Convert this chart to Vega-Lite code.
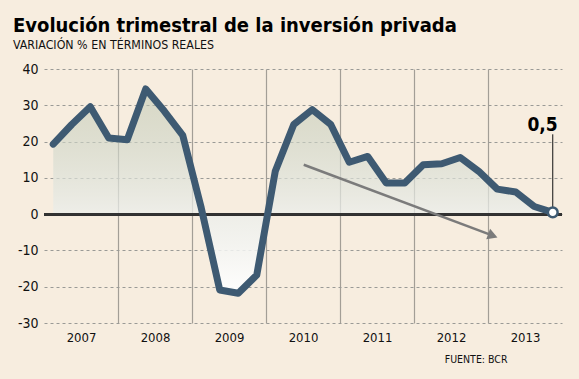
{
  "$schema": "https://vega.github.io/schema/vega-lite/v6.json",
  "autosize": "none",
  "width": 518,
  "height": 254,
  "padding": {"left": 44, "top": 69, "right": 17, "bottom": 56},
  "background": "#f7eddf",
  "title": {
    "text": "Evolución trimestral de la inversión privada",
    "subtitle": "VARIACIÓN % EN TÉRMINOS REALES",
    "anchor": "start",
    "frame": "group",
    "dx": -31,
    "offset": 11,
    "font": "DejaVu Sans Condensed, sans-serif",
    "fontSize": 20,
    "fontWeight": "bold",
    "color": "#000000",
    "subtitleFont": "DejaVu Sans Condensed, sans-serif",
    "subtitleFontSize": 12.3,
    "subtitleColor": "#111111",
    "subtitlePadding": 3
  },
  "config": {
    "view": {"stroke": null},
    "font": "DejaVu Sans Condensed, sans-serif",
    "locale": {
      "number": {"decimal": ",", "thousands": ".", "grouping": [3], "currency": ["", " €"], "minus": "-"}
    }
  },
  "datasets": {
    "serie": [
      {"t": 0, "anio": 2007, "trim": 1, "v": 19.3},
      {"t": 1, "anio": 2007, "trim": 2, "v": 24.7},
      {"t": 2, "anio": 2007, "trim": 3, "v": 29.6},
      {"t": 3, "anio": 2007, "trim": 4, "v": 21.0},
      {"t": 4, "anio": 2008, "trim": 1, "v": 20.5},
      {"t": 5, "anio": 2008, "trim": 2, "v": 34.5},
      {"t": 6, "anio": 2008, "trim": 3, "v": 28.4},
      {"t": 7, "anio": 2008, "trim": 4, "v": 21.7},
      {"t": 8, "anio": 2009, "trim": 1, "v": 1.7},
      {"t": 9, "anio": 2009, "trim": 2, "v": -20.9},
      {"t": 10, "anio": 2009, "trim": 3, "v": -21.8},
      {"t": 11, "anio": 2009, "trim": 4, "v": -16.8},
      {"t": 12, "anio": 2010, "trim": 1, "v": 11.8},
      {"t": 13, "anio": 2010, "trim": 2, "v": 24.7},
      {"t": 14, "anio": 2010, "trim": 3, "v": 28.8},
      {"t": 15, "anio": 2010, "trim": 4, "v": 24.7},
      {"t": 16, "anio": 2011, "trim": 1, "v": 14.3},
      {"t": 17, "anio": 2011, "trim": 2, "v": 15.9},
      {"t": 18, "anio": 2011, "trim": 3, "v": 8.6},
      {"t": 19, "anio": 2011, "trim": 4, "v": 8.6},
      {"t": 20, "anio": 2012, "trim": 1, "v": 13.6},
      {"t": 21, "anio": 2012, "trim": 2, "v": 13.9},
      {"t": 22, "anio": 2012, "trim": 3, "v": 15.6},
      {"t": 23, "anio": 2012, "trim": 4, "v": 11.8},
      {"t": 24, "anio": 2013, "trim": 1, "v": 6.9},
      {"t": 25, "anio": 2013, "trim": 2, "v": 6.1},
      {"t": 26, "anio": 2013, "trim": 3, "v": 2.1},
      {"t": 27, "anio": 2013, "trim": 4, "v": 0.5}
    ],
    "tendencia": [
      {"t": 13.54, "v": 13.6},
      {"t": 23.76, "v": -5.94}
    ]
  },
  "data": {"name": "serie"},
  "encoding": {
    "x": {
      "field": "t",
      "type": "quantitative",
      "scale": {"domain": [-0.5, 27.5], "nice": false, "zero": false},
      "axis": {
        "values": [1.5, 3.5, 5.5, 7.5, 9.5, 11.5, 13.5, 15.5, 17.5, 19.5, 21.5, 23.5, 25.5],
        "labelExpr": "(datum.value - 1.5) % 4 == 0 ? toString(2007 + (datum.value - 1.5) / 4) : ''",
        "grid": true,
        "gridColor": "#a39e96",
        "gridWidth": 1.2,
        "gridOpacity": {"condition": {"test": "(datum.value - 3.5) % 4 == 0", "value": 1}, "value": 0},
        "ticks": false,
        "domain": false,
        "labelFontSize": 13,
        "labelColor": "#111111",
        "labelPadding": 8,
        "labelFlush": false,
        "title": "FUENTE: BCR",
        "titleFontSize": 10.5,
        "titleFontWeight": "normal",
        "titleColor": "#111111",
        "titleAnchor": "end",
        "titleAlign": "right",
        "titleBaseline": "alphabetic",
        "titleX": 463,
        "titleY": 39
      }
    },
    "y": {
      "field": "v",
      "type": "quantitative",
      "scale": {"domain": [-30, 40], "nice": false},
      "axis": {
        "values": [-30, -20, -10, 0, 10, 20, 30, 40],
        "grid": true,
        "gridColor": "#9a9a96",
        "gridDash": [3, 3],
        "gridWidth": 1,
        "ticks": false,
        "domain": false,
        "labelFontSize": 14,
        "labelColor": "#111111",
        "labelPadding": 6,
        "title": null
      }
    }
  },
  "layer": [
    {
      "mark": {
        "type": "area",
        "fill": {
          "x1": 0, "y1": 0, "x2": 0, "y2": 1,
          "gradient": "linear",
          "stops": [
            {"offset": 0, "color": "rgba(185,195,173,0.5)"},
            {"offset": 0.61, "color": "rgba(235,238,235,0.75)"},
            {"offset": 1, "color": "rgba(255,255,255,0.95)"}
          ]
        }
      },
      "encoding": {"y2": {"datum": 0}}
    },
    {
      "mark": {"type": "rule", "color": "#333333", "strokeWidth": 2},
      "encoding": {"x": null, "y": {"datum": 0}}
    },
    {
      "data": {"name": "tendencia"},
      "mark": {"type": "line", "color": "#7b7b7b", "strokeWidth": 2.5},
      "encoding": {}
    },
    {
      "data": {"name": "tendencia"},
      "transform": [{"filter": "datum.t > 20"}],
      "mark": {"type": "point", "shape": "triangle-right", "angle": 20, "size": 130, "filled": true, "color": "#7b7b7b", "opacity": 1},
      "encoding": {}
    },
    {
      "mark": {"type": "line", "color": "#3e5a72", "strokeWidth": 7, "strokeJoin": "round", "strokeCap": "round"},
      "encoding": {}
    },
    {
      "transform": [{"filter": "datum.t == 27"}],
      "mark": {"type": "rule", "color": "#111111", "strokeWidth": 1},
      "encoding": {"y": {"datum": 22}, "y2": {"field": "v"}}
    },
    {
      "transform": [{"filter": "datum.t == 27"}],
      "mark": {"type": "point", "shape": "circle", "size": 95, "filled": true, "fill": "#ffffff", "stroke": "#3e5a72", "strokeWidth": 2.5, "opacity": 1},
      "encoding": {}
    },
    {
      "transform": [{"filter": "datum.t == 27"}],
      "mark": {"type": "text", "align": "right", "baseline": "alphabetic", "dx": 5, "fontSize": 19, "fontWeight": "bold", "font": "DejaVu Sans Condensed, sans-serif", "color": "#000000"},
      "encoding": {"y": {"datum": 23}, "text": {"field": "v", "type": "quantitative", "format": ".1f"}}
    }
  ]
}
